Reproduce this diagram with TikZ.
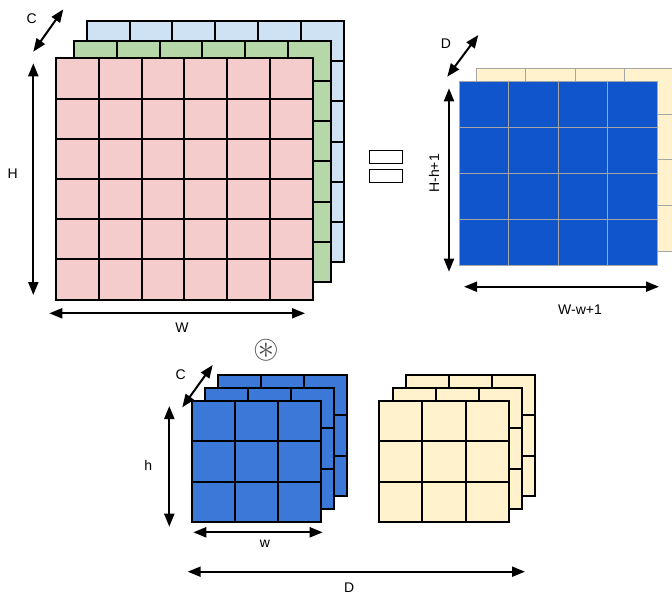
\documentclass[tikz,border=0pt]{standalone}
\usepackage{amsmath,amssymb}
\usepackage{fontspec}
\setmainfont{Liberation Sans}
\usepackage{xcolor}
\usepackage{tikz}
\usetikzlibrary{arrows.meta}
\definecolor{rosa}{HTML}{F4CCCC}
\definecolor{verde}{HTML}{B6D7A8}
\definecolor{azulclaro}{HTML}{CFE2F3}
\definecolor{amarelo}{HTML}{FFF2CC}
\definecolor{azulescuro}{HTML}{1155CC}
\definecolor{azulmedio}{HTML}{3C78D8}
\tikzset{
  grade/.style={draw=black,line width=2pt},
  gradeclara/.style={draw=black!35,line width=0.9pt},
  cota/.style={{Triangle[length=13pt,width=10pt]}-{Triangle[length=13pt,width=10pt]},line width=2pt},
  rotulo/.style={inner sep=1pt,font=\fontsize{14}{16}\selectfont}
}
% camada: x, y, largura da celula, altura da celula, colunas, linhas, estilo
\newcommand{\camada}[7]{%
  \begin{scope}[shift={(#1,#2)}]
    \path[#7] (0,0) rectangle (#5*#3,#6*#4);
    \foreach \i in {1,...,\numexpr#5-1\relax}
      \draw[#7] (\i*#3,0) -- (\i*#3,#6*#4);
    \foreach \j in {1,...,\numexpr#6-1\relax}
      \draw[#7] (0,\j*#4) -- (#5*#3,\j*#4);
  \end{scope}}

\begin{document}
\begin{tikzpicture}[x=1pt,y=-1pt]
\clip (0,0) rectangle (672,594);

% entrada H x W x C
\camada{86.7}{21}{42.8}{40.2}{6}{6}{grade,fill=azulclaro}
\camada{74}{40.7}{42.8}{40.2}{6}{6}{grade,fill=verde}
\camada{56}{58.3}{42.8}{40.2}{6}{6}{grade,fill=rosa}

\coordinate (c1) at (33.3,51.7);  \coordinate (c2) at (63.3,9.3);
\coordinate (h1) at (33.3,63.3);  \coordinate (h2) at (33.3,295);
\coordinate (w1) at (49.3,313.3); \coordinate (w2) at (305,313.3);
\draw[cota] (c1) -- (c2);
\draw[cota] (h1) -- (h2);
\draw[cota] (w1) -- (w2);
\node[rotulo] (rotC) at (31.7,18.3) {C};
\node[rotulo] (rotH) at (12.7,173.3) {H};
\node[rotulo] (rotW) at (182,328) {W};

% sinal de igual
\draw[line width=0.6pt,fill=white] (369.3,150.7) rectangle (402.3,163.3);
\draw[line width=0.6pt,fill=white] (369.3,169.3) rectangle (402.3,182.3);

% saida
\camada{476}{68.3}{49.5}{45.8}{4}{4}{gradeclara,fill=amarelo}
\camada{459.3}{81}{49.5}{46}{4}{4}{gradeclara,fill=azulescuro}

\coordinate (d1) at (447.3,76.7); \coordinate (d2) at (478.3,35);
\coordinate (s1) at (449,88.3);   \coordinate (s2) at (449,271.7);
\coordinate (t1) at (464,286.7);  \coordinate (t2) at (659,286.7);
\draw[cota] (d1) -- (d2);
\draw[cota] (s1) -- (s2);
\draw[cota] (t1) -- (t2);
\node[rotulo] (rotD) at (446,44) {D};
\node[rotulo,rotate=90] (rotHh) at (434,173.3) {H-h+1};
\node[rotulo] (rotWw) at (580,310) {W-w+1};

% convolucao
\node[text=black!70,inner sep=0pt,font=\fontsize{33}{33}\selectfont] (conv) at (266,350.5) {$\circledast$};

% filtros h x w x C, D filtros
\camada{217.7}{375}{43.1}{40.4}{3}{3}{grade,fill=azulmedio}
\camada{205}{387.7}{43.1}{40.4}{3}{3}{grade,fill=azulmedio}
\camada{191.7}{401}{43.1}{40.4}{3}{3}{grade,fill=azulmedio}

\camada{405.7}{375}{43.1}{40.4}{3}{3}{grade,fill=amarelo}
\camada{392.7}{387.7}{43.1}{40.4}{3}{3}{grade,fill=amarelo}
\camada{379.3}{401}{43.1}{40.4}{3}{3}{grade,fill=amarelo}

\coordinate (k1) at (182.3,407.3); \coordinate (k2) at (212.7,365);
\coordinate (a1) at (169.3,406);   \coordinate (a2) at (169.3,526.7);
\coordinate (b1) at (193.3,532.3); \coordinate (b2) at (322.7,532.3);
\coordinate (e1) at (187.7,571.7); \coordinate (e2) at (525,571.7);
\draw[cota] (k1) -- (k2);
\draw[cota] (a1) -- (a2);
\draw[cota] (b1) -- (b2);
\draw[cota] (e1) -- (e2);
\node[rotulo] (rotc) at (180.7,374.3) {C};
\node[rotulo] (roth) at (148.3,465) {h};
\node[rotulo] (rotw) at (265,543.3) {w};
\node[rotulo] (rotDD) at (349.3,587.3) {D};
\end{tikzpicture}
\end{document}
